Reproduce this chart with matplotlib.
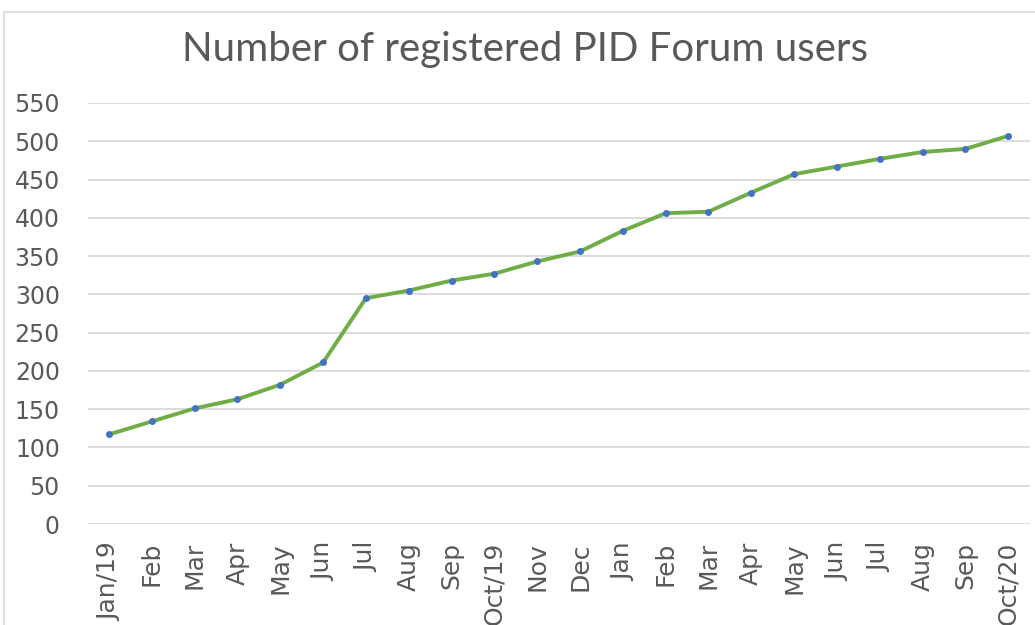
import matplotlib
matplotlib.use("Agg")
import matplotlib.pyplot as plt
from matplotlib.patches import Rectangle

months = ["Jan/19", "Feb", "Mar", "Apr", "May", "Jun", "Jul", "Aug", "Sep", "Oct/19",
          "Nov", "Dec", "Jan", "Feb", "Mar", "Apr", "May", "Jun", "Jul", "Aug", "Sep", "Oct/20"]
users = [117, 134, 151, 163, 182, 211, 295, 305, 318, 327,
         343, 356, 383, 406, 408, 433, 457, 467, 477, 486, 490, 507]
yticks = list(range(0, 551, 50))

fig = plt.figure(figsize=(10.35, 6.25), dpi=100)
fig.patches.append(Rectangle((4/1035, -0.01), 1.0, 1 - 12/625 + 0.01, transform=fig.transFigure,
                             fill=False, edgecolor="#D9D9D9", linewidth=1.2))
ax = fig.add_axes([87.6/1035, 1 - 524/625, (1029.6 - 87.6)/1035, (524 - 103)/625])

x = list(range(len(months)))
ax.plot(x, users, color="#70AD47", linewidth=2.8, solid_joinstyle="round", zorder=3)
ax.plot(x, users, linestyle="none", marker="o", markersize=4, color="#4472C4",
        markeredgecolor="#4472C4", zorder=4)

ax.set_xlim(-0.5, len(months) - 0.5)
ax.set_ylim(0, 550)
ax.set_yticks(yticks)
ax.set_yticklabels([str(v) for v in yticks], fontsize=17, color="#595959")
ax.set_xticks(x)
ax.set_xticklabels(months, rotation=90, fontsize=18, color="#595959")
ax.tick_params(length=0)
ax.tick_params(axis="x", pad=13)
ax.tick_params(axis="y", pad=20)
ax.grid(axis="y", color="#D9D9D9", linewidth=1.3)
ax.set_axisbelow(True)
for s in ax.spines.values():
    s.set_visible(False)

fig.text(525/1035, 1 - 49/625, "Number of registered PID Forum users", ha="center", va="center",
         fontsize=29, color="#595959", family="Lato")

fig.savefig("out.png", dpi=100)
